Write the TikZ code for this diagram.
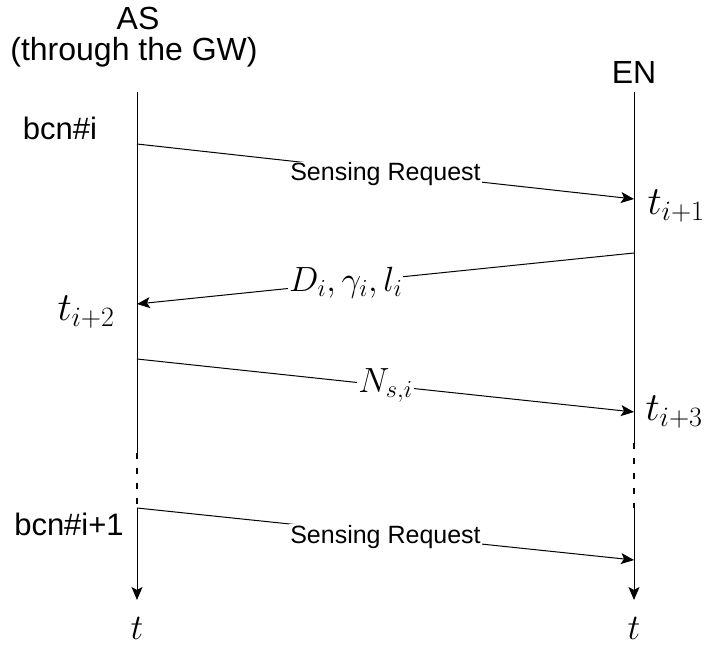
\RequirePackage{fix-cm}
\documentclass[tikz,border=0pt]{standalone}
\usepackage{fontspec}
\newfontfamily\arialf{Liberation Sans}
\usetikzlibrary{arrows.meta}
\begin{document}
\begin{tikzpicture}[x=1pt,y=-1pt,
  lbl/.style={font=\arialf\fontsize{32}{36}\selectfont, inner sep=0pt, anchor=base},
  bcnlbl/.style={font=\arialf\fontsize{31}{34}\selectfont, inner sep=0pt, anchor=base},
  msglbl/.style={font=\arialf\fontsize{25}{28}\selectfont, fill=white, inner sep=1pt},
  mathlbl/.style={font=\fontsize{35}{38}\selectfont, fill=white, inner sep=1pt},
  axislbl/.style={font=\fontsize{36}{40}\selectfont, inner sep=1pt},
  tlbl/.style={font=\fontsize{40}{44}\selectfont, inner sep=1pt},
  msg/.style={line width=1pt, -{Stealth[length=13pt,width=11pt,inset=3pt]}},
  life/.style={line width=1pt},
  lifedash/.style={line width=1.6pt, dash pattern=on 6pt off 9pt},
  timearrow/.style={line width=1pt, -{Stealth[length=13pt,width=11pt,inset=3pt]}}]
\useasboundingbox (0,0) rectangle (707,646);
% headers
\node[lbl] (as) at (138,29) {AS};
\node[lbl] (asgw) at (134,60) {(through the GW)};
\node[lbl] (en) at (634,83) {EN};
% lifeline points
\coordinate (L0) at (137,92);
\coordinate (L1) at (137,453);
\coordinate (L2) at (137,508);
\coordinate (L3) at (137,600);
\coordinate (R0) at (634,92);
\coordinate (R1) at (634,443);
\coordinate (R2) at (634,508);
\coordinate (R3) at (634,600);
\draw[life] (L0) -- (L1);
\draw[lifedash] (L1) -- (L2);
\draw[timearrow] (L2) -- (L3);
\draw[life] (R0) -- (R1);
\draw[lifedash] (R1) -- (R2);
\draw[timearrow] (R2) -- (R3);
% time labels
\node[axislbl] (tl) at (137,628) {$t$};
\node[axislbl] (tr) at (634,628) {$t$};
% beacon labels
\node[bcnlbl] (b1) at (60,139) {bcn\#i};
\node[bcnlbl] (b2) at (69,535) {bcn\#i+1};
% message endpoints
\coordinate (m1s) at (137,144);
\coordinate (m1e) at (634,199);
\coordinate (m2s) at (634,253);
\coordinate (m2e) at (137,304);
\coordinate (m3s) at (137,359);
\coordinate (m3e) at (634,412);
\coordinate (m4s) at (137,508);
\coordinate (m4e) at (634,560);
\draw[msg] (m1s) -- node[msglbl, pos=0.5, yshift=-3pt] (sr1) {Sensing Request} (m1e);
\draw[msg] (m2s) -- node[mathlbl, pos=0.58] (dgl) {$D_i, \gamma_i, l_i$} (m2e);
\draw[msg] (m3s) -- node[mathlbl, pos=0.5] (nsi) {$N_{s,i}$} (m3e);
\draw[msg] (m4s) -- node[msglbl, pos=0.5, yshift=-3pt] (sr2) {Sensing Request} (m4e);
% time stamps
\node[tlbl] (t1) at (676,206) {$t_{i+1}$};
\node[tlbl] (t2) at (86,312) {$t_{i+2}$};
\node[tlbl] (t3) at (674,412) {$t_{i+3}$};
\end{tikzpicture}
\end{document}
